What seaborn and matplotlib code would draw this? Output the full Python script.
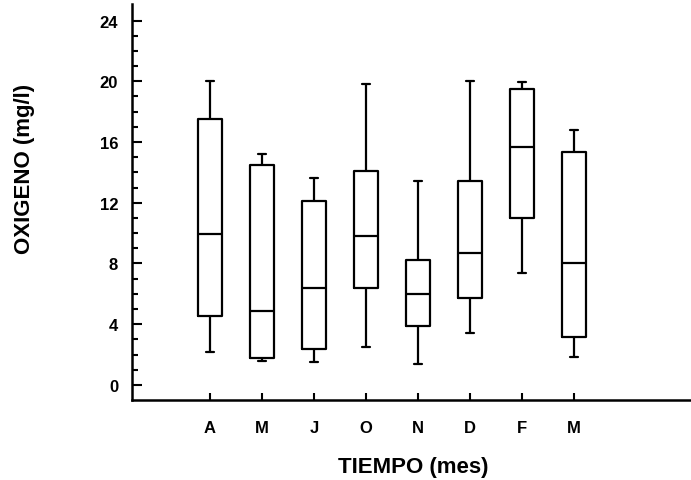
import numpy as np
import pandas as pd
import matplotlib
matplotlib.use("Agg")
import matplotlib.pyplot as plt
import seaborn as sns
from matplotlib.ticker import FixedLocator

# Data
months = ["A", "M", "J", "O", "N", "D", "F", "M"]
whisker_low = [2.2, 1.6, 1.5, 2.5, 1.4, 3.4, 7.4, 1.85]
q1 = [4.55, 1.8, 2.35, 6.4, 3.9, 5.7, 11.0, 3.15]
median = [9.95, 4.85, 6.4, 9.8, 6.0, 8.7, 15.7, 8.0]
q3 = [17.5, 14.5, 12.1, 14.1, 8.25, 13.4, 19.5, 15.35]
whisker_high = [20.0, 15.2, 13.6, 19.85, 13.4, 20.0, 19.95, 16.8]
y_ticks = [0, 4, 8, 12, 16, 20, 24]

# Build long-form data: five points per month give exact quartiles
keys = [f"{m}_{i}" for i, m in enumerate(months)]
rows = []
for k, lo, a, md, b, hi in zip(keys, whisker_low, q1, median, q3, whisker_high):
    for v in (lo, a, md, b, hi):
        rows.append({"mes": k, "oxigeno": v})
df = pd.DataFrame(rows)

sns.set_style("ticks")
plt.rcParams["font.family"] = ["Liberation Sans", "DejaVu Sans"]
plt.rcParams["font.weight"] = "bold"
plt.rcParams["text.color"] = "black"
plt.rcParams["axes.labelcolor"] = "black"
plt.rcParams["xtick.color"] = "black"
plt.rcParams["ytick.color"] = "black"

fig = plt.figure(figsize=(6.91, 4.81), dpi=100)
ax = fig.add_axes([0.191, 0.166, 0.809, 0.824])

sns.boxplot(data=df, x="mes", y="oxigeno", order=keys, whis=np.inf,
            width=0.45, fill=False, color="black", linewidth=1.6,
            capwidths=0.17, ax=ax)

ax.set_xlim(-1.5, 9.25)
ax.set_ylim(-1.0, 25.1)

ax.set_xticks(range(len(months)))
ax.set_xticklabels(months, fontsize=12, fontweight="bold", color="black")
ax.set_yticks(y_ticks)
ax.set_yticklabels([str(t) for t in y_ticks], fontsize=12, fontweight="bold",
                   color="black")
ax.yaxis.set_minor_locator(FixedLocator([v for v in range(0, 25) if v % 4]))

ax.tick_params(axis="y", which="major", direction="in", length=7, width=1.5,
               pad=10, colors="black")
ax.tick_params(axis="y", which="minor", direction="in", length=4, width=1.5,
               colors="black")
ax.tick_params(axis="x", which="major", direction="in", length=5, width=1.5,
               pad=14, colors="black")

for s in ["top", "right"]:
    ax.spines[s].set_visible(False)
for s in ["left", "bottom"]:
    ax.spines[s].set_linewidth(1.8)
    ax.spines[s].set_color("black")

ax.set_xlabel("TIEMPO (mes)", fontsize=16, fontweight="bold", color="black")
ax.set_ylabel("OXIGENO (mg/l)", fontsize=16, fontweight="bold", color="black")
ax.xaxis.set_label_coords(0.504, -0.168)
ax.yaxis.set_label_coords(-0.193, 0.586)
ax.xaxis.label.set_verticalalignment("center")
ax.yaxis.label.set_verticalalignment("center")

fig.savefig("out.png", dpi=100)
